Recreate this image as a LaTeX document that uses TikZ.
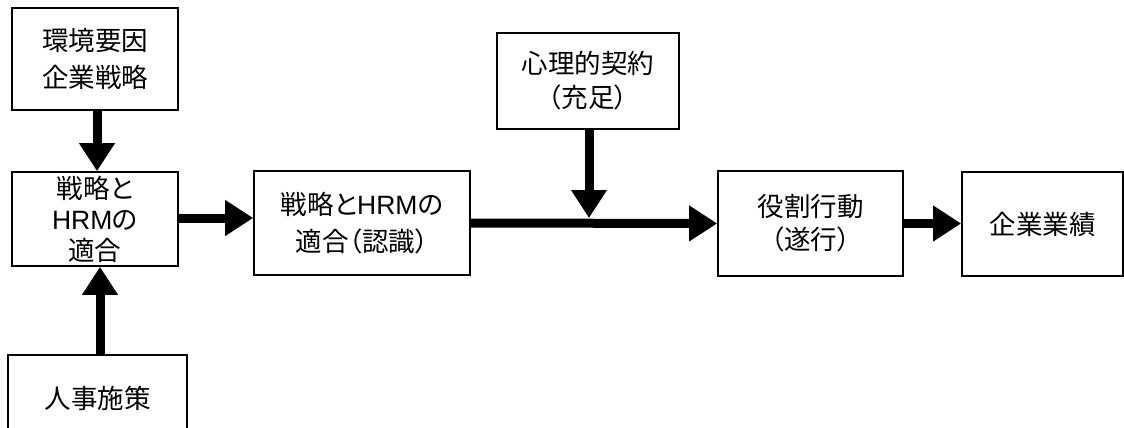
\documentclass[tikz,border=0pt]{standalone}
\usepackage{fontspec}
\setmainfont{Liberation Sans}
\newfontfamily\jp[RawFeature=+palt]{Noto Sans CJK JP}
\usetikzlibrary{arrows.meta}
\tikzset{
  box/.style={draw=black, line width=1.6pt, rectangle, inner sep=0pt, align=center,
    font=\jp\fontsize{26.5}{35}\selectfont},
  flow/.style={line width=9pt, -{Triangle[length=28pt,width=34pt]}}
}
\begin{document}
\begin{tikzpicture}[x=1pt,y=-1pt]
\useasboundingbox (0,0) rectangle (1124,428);
\clip (0,0) rectangle (1124,428);
\node[box, minimum width=166pt, minimum height=102pt, font=\jp\fontsize{26.5}{37}\selectfont] (A) at (95,59) {環境要因\\企業戦略};
\node[box, minimum width=166pt, minimum height=94pt, font=\jp\fontsize{26.5}{31}\selectfont] (B) at (95,219) {戦略と\\{\rmfamily HRM}の\\適合};
\node[box, minimum width=179pt, minimum height=86pt] (C) at (97.5,398) {人事施策};
\node[box, minimum width=216pt, minimum height=104pt, font=\jp\fontsize{26.5}{37}\selectfont] (D) at (362,223) {戦略と{\rmfamily HRM}の\\適合（認識）};
\node[box, minimum width=182pt, minimum height=96pt, font=\jp\fontsize{26.5}{34}\selectfont] (E) at (588,81) {心理的契約\\（充足）};
\node[box, minimum width=185pt, minimum height=105pt, font=\jp\fontsize{26.5}{33}\selectfont] (F) at (810.5,223.5) {役割行動\\（遂行）};
\node[box, minimum width=161pt, minimum height=104pt] (G) at (1042.5,224) {企業業績};
\coordinate (J) at (589,218);
\draw[flow] (A.south -| 97,0) -- (B.north -| 97,0);
\draw[flow] (C.north -| 100,0) -- (B.south -| 100,0);
\draw[flow] (B.east |- 0,218) -- (D.west |- 0,218);
\draw[flow] (D.east) -- (F.west);
\draw[flow] (E.south -| J) -- (J);
\draw[flow] (F.east) -- (G.west |- F.east);
\end{tikzpicture}
\end{document}
